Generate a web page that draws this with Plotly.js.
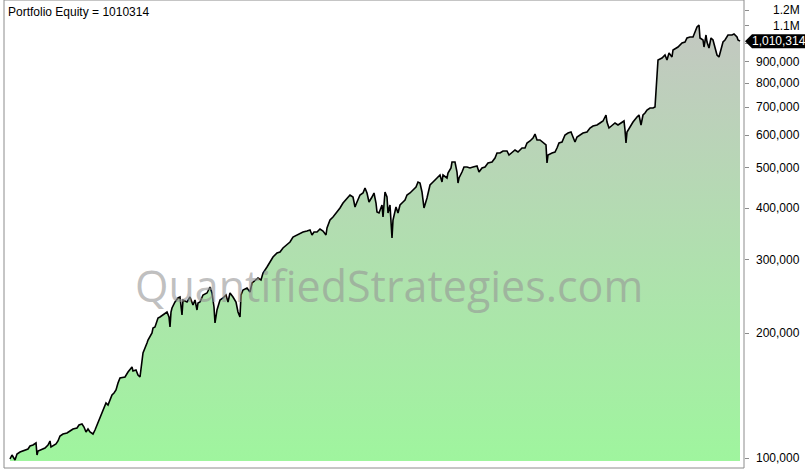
<!DOCTYPE html>
<html><head><meta charset="utf-8">
<script src="https://cdn.plot.ly/plotly-3.0.1.min.js"></script>
<style>html,body{margin:0;padding:0;background:#fff;overflow:hidden}#chart{width:805px;height:469px}</style>
</head><body><div id="chart"></div>
<script>
// ---- data ----
const bars = [0,2,5,7,10,15,18,20,23,26,27,28,32,35,38,40,41,43,46,48,50,53,57,60,63,67,69,72,74,76,78,80,83,85,87,90,92,94,96,98,100,102,104,106,108,110,115,118,122,123,126,128,130,133,137,138,142,143,145,147,148,150,153,157,159,160,161,162,165,168,170,172,173,177,180,183,185,187,188,190,193,197,200,202,204,205,207,210,213,216,218,220,223,226,228,230,231,233,237,240,242,245,248,251,253,257,260,263,267,270,273,277,280,283,287,290,293,297,300,302,304,307,310,313,316,317,320,323,327,330,333,337,340,343,345,347,350,353,355,357,359,362,364,366,367,369,372,373,375,377,378,380,382,383,386,388,390,393,395,397,400,403,406,408,410,412,413,414,417,420,423,427,430,432,433,437,438,441,442,445,447,448,449,452,454,457,460,463,467,469,472,475,478,482,485,487,490,493,497,499,502,505,508,512,515,517,520,523,525,527,530,533,536,537,538,542,545,547,549,552,555,558,561,563,565,567,570,573,577,580,583,587,590,593,596,597,599,602,605,608,612,614,615,616,617,620,623,627,629,631,633,635,637,640,643,645,646,647,648,652,655,657,659,662,663,668,672,675,677,680,683,685,687,689,690,693,694,696,697,699,701,703,705,707,709,711,713,715,718,722,724,727,728,730];
const equity = [99450,101680,98900,102240,103390,104540,105120,106890,107480,108680,101680,103960,105120,105710,107480,109890,106290,106890,108080,109890,112980,114240,114880,116160,117460,118110,120090,120760,118770,115520,117460,115520,114240,116810,120090,124850,128360,132710,135680,134190,138730,141840,143430,145830,151610,155870,156740,161150,165680,162050,162950,158490,156740,179070,189280,192460,200080,205710,206860,212670,217450,218660,221100,224810,218660,206860,224810,229850,237630,242970,244320,221100,240290,237630,244320,233710,240290,227320,236320,237630,247040,249800,258260,249800,231130,211500,227320,240290,242970,247040,237630,249800,244320,237630,224810,218660,247040,253990,256830,251190,264050,268490,271480,268490,279120,288560,296680,305030,311870,313610,320640,326030,331500,340820,344630,348470,350410,352360,354320,344630,350410,350410,356290,352360,344630,358270,374530,380820,391530,400320,411580,423160,430260,425510,402550,413870,430260,435060,447300,435060,413870,425510,435060,411580,391530,389370,407040,380820,437480,425510,389370,407040,338940,374530,402550,389370,407040,413870,418490,430260,435060,442370,449790,462440,459880,437480,411580,400320,423160,454810,462440,472820,480760,462440,480760,472820,486120,499790,516710,516710,488830,459880,472820,488830,502570,502570,499790,502570,505370,488830,499790,502570,513850,516710,528310,543170,543170,549230,549230,537180,546190,552290,546190,558450,558450,574160,580560,590310,603550,583790,583790,574160,567820,513850,537180,543170,546190,558450,574160,577350,600210,606910,610290,593590,577350,593590,600210,606910,610290,623980,630950,634460,641540,648700,670650,645110,623980,634460,641540,634460,645110,648700,617100,574160,610290,627460,645110,663250,670650,634460,670650,678140,689520,697210,697210,701090,761940,870460,909960,920110,935560,909960,946000,925230,961880,978020,1000000,1005560,1028100,1033820,1033820,1062900,1092800,1104990,1028100,1016750,978020,1045360,1005560,972610,1028100,1016750,972610,935560,925230,972610,1005560,1016750,1045360,1045360,1051170,1033820,1016750,1010314];
const tickValues = [100000,200000,300000,400000,500000,600000,700000,800000,900000,1000000,1100000,1200000];
const tickLabels = ["100,000","200,000","300,000","400,000","500,000","600,000","700,000","800,000","900,000","","1.1M","1.2M"];
const titleText = "Portfolio Equity";
const watermarkText = "QuantifiedStrategies.com";

// ---- geometry (pixels) ----
const W = 805, H = 469;
const L = 4, R = 744, T = 1, B = 461, FRAME_B = 468;
const Y100K = 458, PX_PER_DECADE = 415;
const yRange = [5 - (B - Y100K) / PX_PER_DECADE, 5 + (Y100K - T) / PX_PER_DECADE];
const xRange = [bars[0] - 6, bars[bars.length - 1] + 4];
const px = p => (p - L) / (R - L);
const py = p => (B - p) / (B - T);
const valToPaperY = v => (Math.log10(v) - yRange[0]) / (yRange[1] - yRange[0]);

const lastValue = equity[equity.length - 1];
const fmt = v => v.toLocaleString('en-US');
const font = "Liberation Sans, Arial, sans-serif";
const frameColor = "#8c8c8c";

const trace = {
  x: bars, y: equity, type: 'scatter', mode: 'lines',
  line: {color: '#000000', width: 1.6},
  fill: 'tozeroy',
  fillgradient: {type: 'vertical', start: Math.pow(10, yRange[0]), stop: Math.pow(10, yRange[1]),
    colorscale: [[0, '#9ff59e'], [1, '#c5c5c3']]},
  hoverinfo: 'skip'
};

const annotations = [];
annotations.push({xref: 'paper', yref: 'paper', x: px(6), y: py(12), xanchor: 'left', yanchor: 'middle',
  text: titleText + ' = ' + lastValue, showarrow: false, font: {family: font, size: 12, color: '#000'}});
tickValues.forEach((v, i) => {
  if (!tickLabels[i]) return;
  annotations.push({xref: 'paper', yref: 'y', x: px(802), y: Math.log10(v), xanchor: 'right', yanchor: 'middle',
    text: tickLabels[i], showarrow: false, font: {family: font, size: 12, color: '#000'}});
});
annotations.push({xref: 'paper', yref: 'paper', x: px(389), y: py(285), xanchor: 'center', yanchor: 'middle',
  text: watermarkText, showarrow: false,
  font: {family: 'Open Sans, sans-serif', size: 43, color: 'rgba(150,150,150,0.6)'}});
const lastY = valToPaperY(lastValue);
annotations.push({xref: 'paper', yref: 'paper', x: px(750), y: lastY, xanchor: 'left', yanchor: 'middle',
  text: fmt(lastValue), showarrow: false, font: {family: font, size: 12, color: '#fff'}});

const hh = 7 / (B - T);
const shapes = [
  {type: 'line', xref: 'paper', yref: 'paper', x0: 0, x1: 0, y0: py(FRAME_B), y1: py(0), line: {color: frameColor, width: 1}},
  {type: 'line', xref: 'paper', yref: 'paper', x0: 0, x1: 1, y0: py(FRAME_B), y1: py(FRAME_B), line: {color: frameColor, width: 1}},
  {type: 'line', xref: 'paper', yref: 'paper', x0: 1, x1: 1, y0: py(FRAME_B), y1: py(0), line: {color: frameColor, width: 1}},
  {type: 'line', xref: 'paper', yref: 'paper', x0: 0, x1: 1, y0: py(0), y1: py(0), line: {color: frameColor, width: 1}},
  {type: 'path', xref: 'paper', yref: 'paper', fillcolor: '#000', line: {width: 0},
   path: `M ${px(745)} ${lastY} L ${px(752)} ${lastY + hh} L ${px(810)} ${lastY + hh} L ${px(810)} ${lastY - hh} L ${px(752)} ${lastY - hh} Z`}
];

const layout = {
  width: W, height: H,
  margin: {l: L, r: W - R, t: T, b: H - B, pad: 0},
  paper_bgcolor: '#fff', plot_bgcolor: '#fff',
  showlegend: false,
  xaxis: {range: xRange, visible: false, fixedrange: true},
  yaxis: {type: 'log', range: yRange, side: 'right', showgrid: false, zeroline: false, showline: false,
    ticks: 'outside', ticklen: 4, tickwidth: 1, tickcolor: frameColor, tickmode: 'array', tickvals: tickValues,
    showticklabels: false, fixedrange: true},
  annotations: annotations,
  shapes: shapes
};

Plotly.newPlot('chart', [trace], layout, {staticPlot: true, displayModeBar: false});
</script>
</body></html>
